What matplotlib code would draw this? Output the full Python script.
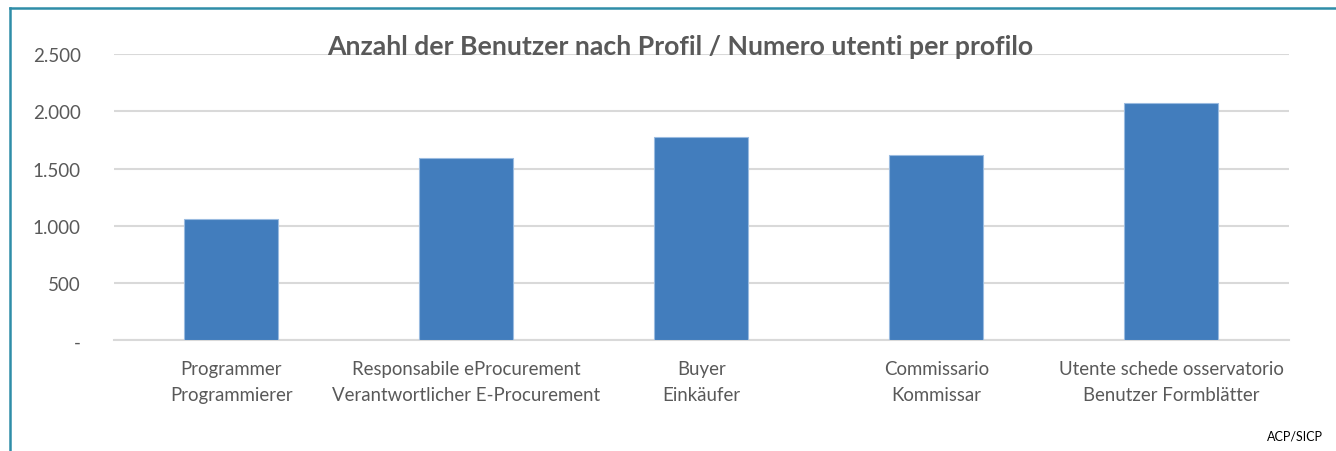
import matplotlib
matplotlib.use("Agg")
import matplotlib.pyplot as plt
from matplotlib.lines import Line2D
from matplotlib.ticker import FixedLocator

plt.rcParams['font.family'] = ['Lato', 'DejaVu Sans']

categories = [
    "Programmer\nProgrammierer",
    "Responsabile eProcurement\nVerantwortlicher E-Procurement",
    "Buyer\nEinkäufer",
    "Commissario\nKommissar",
    "Utente schede osservatorio\nBenutzer Formblätter",
]
values = [1063, 1591, 1771, 1622, 2072]
yticks = [0, 500, 1000, 1500, 2000, 2500]
ytick_labels = ["-", "500", "1.000", "1.500", "2.000", "2.500"]
title = "Anzahl der Benutzer nach Profil / Numero utenti per profilo"
source = "ACP/SICP"

W, H = 1336, 452
fig = plt.figure(figsize=(W / 100, H / 100), dpi=100)
fig.patch.set_facecolor("white")

ax_left, ax_right = 114 / W, 1288.7 / W
ax_bottom, ax_top = 1 - 341.3 / H, 1 - 55.0 / H
ax = fig.add_axes([ax_left, ax_bottom, ax_right - ax_left, ax_top - ax_bottom])

x = list(range(len(categories)))
ax.bar(x, values, width=0.4, color="#427DBD", edgecolor="#9ABBE0", linewidth=0.8, zorder=3)
ax.set_xlim(-0.5, len(categories) - 0.5)
ax.set_ylim(0, 2500)
ax.yaxis.set_major_locator(FixedLocator(yticks))
ax.set_yticklabels(ytick_labels)
ax.set_xticks(x)
ax.set_xticklabels(categories, linespacing=1.6)

ax.grid(axis="y", color="#D9D9D9", linewidth=1.5, zorder=0)
ax.grid(axis="x", visible=False)
for s in ["left", "right", "top"]:
    ax.spines[s].set_visible(False)
ax.spines["bottom"].set_color("#D9D9D9")
ax.spines["bottom"].set_linewidth(1.5)
ax.tick_params(axis="y", length=0, pad=24, labelsize=13.5, labelcolor="#595959")
ax.tick_params(axis="x", length=0, pad=14.5, labelsize=13.4, labelcolor="#595959")
ax.set_facecolor("none")

fig.text(680 / W, 1 - 47 / H, title, ha="center", va="center",
         fontsize=19.2, fontweight="bold", color="#595959")
fig.text(1295 / W, 1 - 437 / H, source, ha="center", va="center",
         fontsize=9, color="black")

# chart border (teal), cropped on right and bottom
fig.add_artist(Line2D([9.5 / W, 1.0], [1 - 8.5 / H, 1 - 8.5 / H], color="#2F8DA8",
                      linewidth=1.8, transform=fig.transFigure))
fig.add_artist(Line2D([9.5 / W, 9.5 / W], [0, 1 - 8.5 / H], color="#2F8DA8",
                      linewidth=1.8, transform=fig.transFigure))

fig.savefig("out.png", dpi=100, facecolor="white")
